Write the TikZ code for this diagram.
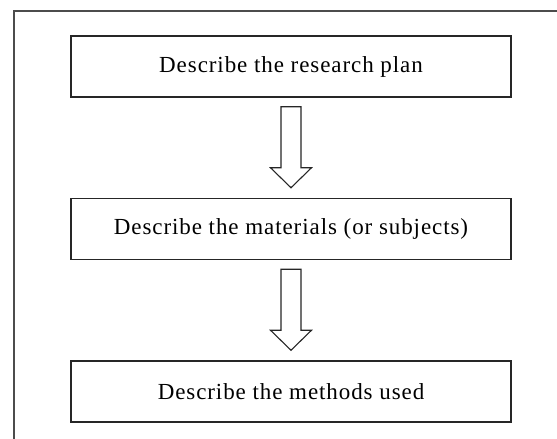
\documentclass[tikz,border=0pt]{standalone}
\usepackage{fontspec}
\setmainfont[LetterSpace=4]{Liberation Serif}
\usetikzlibrary{positioning}

\begin{document}
\begin{tikzpicture}[x=1pt, y=1pt, node distance=100pt,
    every node/.style={font=\fontsize{23}{26}\selectfont}, align=center,
    stepbox/.style={rectangle, draw=black!85, line width=1.5pt, minimum width=440pt, minimum height=61pt, inner sep=0pt},
    blockarrow/.style={draw=black!85, line width=1.1pt, fill=white, line join=miter}]
            \useasboundingbox (0,0) rectangle (557,439);
            % frame
            \draw[black!70, line width=1.4pt] (14,0) -- (14,428) -- (557,428);

            % steps
            \node (plan) [stepbox] at (291,372.5) {Describe the research plan};
            \node (materials) [stepbox, below=of plan] {Describe the materials (or subjects)};
            \node (methods) [stepbox, below=of materials] {Describe the methods used};

            % arrows
            \draw[blockarrow] ([xshift=-10pt, yshift=-9pt]plan.south) -- ++(0,-61) -- ++(-10.5,0) -- ++(20.5,-20) -- ++(20.5,20) -- ++(-10.5,0) -- ++(0,61) -- cycle;
            \draw[blockarrow] ([xshift=-10pt, yshift=-9pt]materials.south) -- ++(0,-61) -- ++(-10.5,0) -- ++(20.5,-20) -- ++(20.5,20) -- ++(-10.5,0) -- ++(0,61) -- cycle;
        \end{tikzpicture}
\end{document}
